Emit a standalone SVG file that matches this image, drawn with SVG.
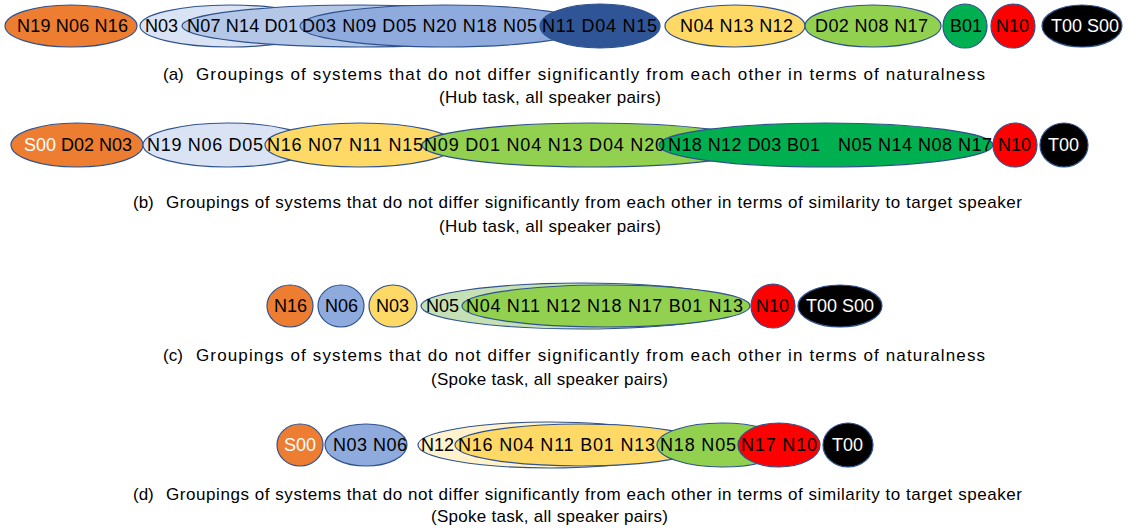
<svg xmlns="http://www.w3.org/2000/svg" width="1132" height="529" viewBox="0 0 1132 529">
<style>
.e{stroke:#2f528f;stroke-width:1.2}
.t{font-family:"Liberation Sans",Arial,sans-serif;font-size:18px;fill:#000}
.w{fill:#fff}
.c{font-family:"Liberation Sans",Arial,sans-serif;font-size:17px;fill:#000}
</style>
<rect width="1132" height="529" fill="#fff"/>
<!-- Row a -->
<g id="a-n19">
<ellipse class="e" cx="71" cy="26" rx="66" ry="21" fill="#ed7d31"/>
<text class="t" x="17" y="32" textLength="111">N19 N06 N16</text></g>
<g id="a-n03"><ellipse class="e" cx="230" cy="26" rx="90" ry="21" fill="#dae3f3"/></g>
<g id="a-n07"><ellipse class="e" cx="360" cy="26" rx="178" ry="21" fill="#b4c7e7"/></g>
<g id="a-d03"><ellipse class="e" cx="445" cy="26" rx="145" ry="21" fill="#8faadc"/></g>
<g id="a-n11"><ellipse class="e" cx="600" cy="26" rx="60" ry="22" fill="#2f5597"/></g>
<text class="t" x="145" y="32">N03</text>
<text class="t" x="187" y="32" textLength="111">N07 N14 D01</text>
<text class="t" x="302" y="32" textLength="235">D03 N09 D05 N20 N18 N05</text>
<text class="t" x="542" y="32" textLength="115">N11 D04 N15</text>
<g id="a-n04"><ellipse class="e" cx="735" cy="26" rx="70" ry="21" fill="#ffd966"/>
<text class="t" x="680" y="32" textLength="113">N04 N13 N12</text></g>
<g id="a-d02"><ellipse class="e" cx="873" cy="26" rx="68" ry="21" fill="#92d050"/>
<text class="t" x="815" y="32" textLength="113">D02 N08 N17</text></g>
<g id="a-b01"><ellipse class="e" cx="965" cy="26" rx="22" ry="22" fill="#00b050"/>
<text class="t" x="950" y="32">B01</text></g>
<g id="a-n10"><ellipse class="e" cx="1013" cy="26" rx="22" ry="22" fill="#ff0000"/>
<text class="t" x="996" y="32">N10</text></g>
<g id="a-t00"><ellipse class="e" cx="1082" cy="26" rx="40" ry="21" fill="#000"/>
<text class="t w" x="1051" y="32" textLength="68">T00 S00</text></g>
<text class="c" x="163" y="80">(a)</text>
<text class="c" x="196" y="80" textLength="789">Groupings of systems that do not differ significantly from each other in terms of naturalness</text>
<text class="c" x="439" y="103" textLength="222">(Hub task, all speaker pairs)</text>

<!-- Row b -->
<g id="b-s00"><ellipse class="e" cx="77" cy="145" rx="66" ry="22" fill="#ed7d31"/>
<text class="t" x="24" y="151"><tspan class="w">S00</tspan> D02 N03</text></g>
<g id="b-n19"><ellipse class="e" cx="228" cy="145" rx="85" ry="22" fill="#dae3f3"/></g>
<g id="b-n16"><ellipse class="e" cx="360" cy="145" rx="95" ry="22" fill="#ffd966"/></g>
<g id="b-n09"><ellipse class="e" cx="592" cy="145" rx="170" ry="22" fill="#92d050"/></g>
<g id="b-n18"><ellipse class="e" cx="826" cy="145" rx="167" ry="22" fill="#00b050"/></g>
<text class="t" x="147" y="151" textLength="116">N19 N06 D05</text>
<text class="t" x="267" y="151" textLength="156">N16 N07 N11 N15</text>
<text class="t" x="424" y="151" textLength="241">N09 D01 N04 N13 D04 N20</text>
<text class="t" x="668" y="151" textLength="152">N18 N12 D03 B01</text>
<text class="t" x="838" y="151" textLength="154">N05 N14 N08 N17</text>
<g id="b-n10"><ellipse class="e" cx="1015" cy="145" rx="22" ry="22" fill="#ff0000"/>
<text class="t" x="998" y="151">N10</text></g>
<g id="b-t00"><ellipse class="e" cx="1064" cy="145" rx="24" ry="22" fill="#000"/>
<text class="t w" x="1048" y="151">T00</text></g>
<text class="c" x="133" y="208">(b)</text>
<text class="c" x="166" y="208" textLength="856">Groupings of systems that do not differ significantly from each other in terms of similarity to target speaker</text>
<text class="c" x="439" y="232" textLength="222">(Hub task, all speaker pairs)</text>

<!-- Row c -->
<g id="c-n16"><ellipse class="e" cx="290" cy="306" rx="23" ry="21" fill="#ed7d31"/>
<text class="t" x="274" y="312">N16</text></g>
<g id="c-n06"><ellipse class="e" cx="341" cy="306" rx="23" ry="21" fill="#8faadc"/>
<text class="t" x="325" y="312">N06</text></g>
<g id="c-n03"><ellipse class="e" cx="393" cy="306" rx="24" ry="21" fill="#ffd966"/>
<text class="t" x="376" y="312">N03</text></g>
<g id="c-n05"><ellipse class="e" cx="582" cy="306" rx="161" ry="23" fill="#c5e0b4"/></g>
<g id="c-n04"><ellipse class="e" cx="606" cy="306" rx="144" ry="21" fill="#92d050"/></g>
<text class="t" x="426" y="312">N05</text>
<text class="t" x="466" y="312" textLength="277">N04 N11 N12 N18 N17 B01 N13</text>
<g id="c-n10"><ellipse class="e" cx="773" cy="306" rx="22" ry="22" fill="#ff0000"/>
<text class="t" x="756" y="312">N10</text></g>
<g id="c-t00"><ellipse class="e" cx="840" cy="306" rx="42" ry="21" fill="#000"/>
<text class="t w" x="806" y="312" textLength="68">T00 S00</text></g>
<text class="c" x="163" y="361">(c)</text>
<text class="c" x="196" y="361" textLength="789">Groupings of systems that do not differ significantly from each other in terms of naturalness</text>
<text class="c" x="431" y="385" textLength="237">(Spoke task, all speaker pairs)</text>

<!-- Row d -->
<g id="d-s00"><ellipse class="e" cx="300" cy="445" rx="23" ry="21" fill="#ed7d31"/>
<text class="t w" x="284" y="451">S00</text></g>
<g id="d-n03"><ellipse class="e" cx="366" cy="445" rx="41" ry="21" fill="#8faadc"/>
<text class="t" x="333" y="451" textLength="74">N03 N06</text></g>
<g id="d-n12"><ellipse class="e" cx="550" cy="445" rx="132" ry="23" fill="#fff2cc"/></g>
<g id="d-n16"><ellipse class="e" cx="580" cy="445" rx="125" ry="21" fill="#ffd966"/></g>
<text class="t" x="421" y="451">N12</text>
<text class="t" x="458" y="451" textLength="197">N16 N04 N11 B01 N13</text>
<g id="d-n18"><ellipse class="e" cx="722" cy="445" rx="65" ry="22" fill="#92d050"/>
<text class="t" x="660" y="451" textLength="76">N18 N05</text></g>
<g id="d-n17"><ellipse class="e" cx="779" cy="445" rx="41" ry="22" fill="#ff0000"/>
<text class="t" x="741" y="451" textLength="76">N17 N10</text></g>
<g id="d-t00"><ellipse class="e" cx="848" cy="445" rx="25" ry="22" fill="#000"/>
<text class="t w" x="832" y="451">T00</text></g>
<text class="c" x="133" y="500">(d)</text>
<text class="c" x="166" y="500" textLength="856">Groupings of systems that do not differ significantly from each other in terms of similarity to target speaker</text>
<text class="c" x="431" y="522" textLength="237">(Spoke task, all speaker pairs)</text>
<g id="connectors"/>
</svg>
